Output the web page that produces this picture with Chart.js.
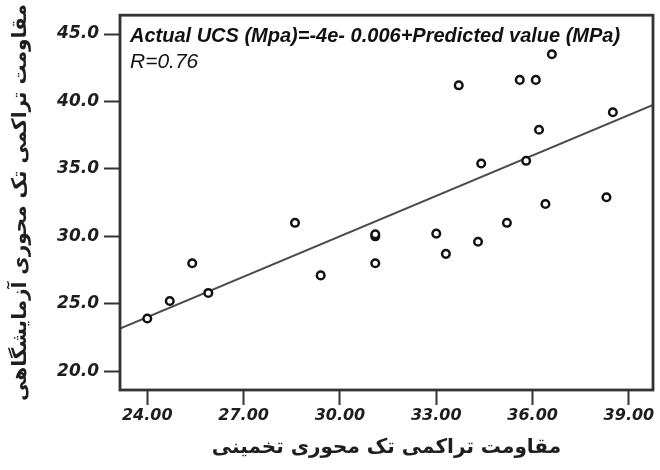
<!DOCTYPE html>
<html>
<head>
<meta charset="utf-8">
<script src="https://cdn.jsdelivr.net/npm/chart.js@4/dist/chart.umd.min.js"></script>
<style>
  html, body { margin: 0; padding: 0; background: #fff; }
  #c { display: block; }
</style>
</head>
<body>
<canvas id="c" width="660" height="470"></canvas>
<script>
  const predicted = [24.0, 24.7, 25.4, 25.9, 28.6, 29.4, 31.1, 31.1, 31.1, 33.0, 33.3, 33.7, 34.3, 34.4, 35.2, 35.6, 35.8, 36.1, 36.2, 36.4, 36.6, 38.3, 38.5];
  const actual    = [23.9, 25.2, 28.0, 25.8, 31.0, 27.1, 30.0, 30.15, 28.0, 30.2, 28.7, 41.2, 29.6, 35.4, 31.0, 41.6, 35.6, 41.6, 37.9, 32.4, 43.5, 32.9, 39.2];

  // fitted line: Actual = -4e-6 + Predicted, drawn across the x range
  const fitX = [23.15, 39.75];
  const fitY = [23.15, 39.75];

  const xTicks = [24, 27, 30, 33, 36, 39];
  const yTicks = [20, 25, 30, 35, 40, 45];
  const xRange = [23.15, 39.75];
  const yRange = [18.6, 46.4];

  const eqText = "Actual UCS (Mpa)=-4e- 0.006+Predicted value (MPa)";
  const rText = "R=0.76";
  const xTitle = "مقاومت تراکمی تک محوری تخمینی";
  const yTitle = "مقاومت تراکمی تک محوری آزمایشگاهی";

  const INK = "#1e1e1e", FRAME = "#333";
  const XTICKFONT = { family: "'DejaVu Sans', sans-serif", size: 16, weight: "bold", style: "italic" };
  const YTICKFONT = { family: "'DejaVu Sans', sans-serif", size: 17, weight: "bold", style: "italic" };
  const TITLEFONT = { family: "'DejaVu Sans', sans-serif", size: 20, weight: "bold" };

  const boxPlugin = {
    id: "box",
    afterDatasetsDraw(chart) {
      const { ctx, chartArea: a } = chart;
      ctx.save();
      ctx.strokeStyle = FRAME;
      ctx.lineWidth = 2.8;
      ctx.strokeRect(a.left, a.top, a.right - a.left, a.bottom - a.top);
      ctx.fillStyle = "#111";
      ctx.textBaseline = "alphabetic";
      ctx.font = "italic bold 20px 'Liberation Sans', Arial, sans-serif";
      ctx.fillText(eqText, a.left + 10, a.top + 27);
      ctx.font = "italic 21px 'Liberation Sans', Arial, sans-serif";
      ctx.fillText(rText, a.left + 10, a.top + 53);
      ctx.restore();
    }
  };

  const pts = predicted.map((x, i) => ({ x: x, y: actual[i] }));
  const fit = fitX.map((x, i) => ({ x: x, y: fitY[i] }));

  new Chart(document.getElementById("c"), {
    type: "scatter",
    data: {
      datasets: [
        { type: "scatter", data: pts, order: 1, pointStyle: "circle", pointRadius: 3.8, pointHoverRadius: 3.8,
          borderColor: "#111", backgroundColor: "#fff", borderWidth: 2.5 },
        { type: "line", data: fit, order: 2, borderColor: "#4a4a4a", borderWidth: 2, pointRadius: 0, fill: false }
      ]
    },
    options: {
      responsive: false, animation: false,
      layout: { padding: { top: 10, right: 7, left: 0, bottom: 0 } },
      plugins: { legend: { display: false }, tooltip: { enabled: false } },
      scales: {
        x: {
          type: "linear", min: xRange[0], max: xRange[1],
          afterBuildTicks: s => { s.ticks = xTicks.map(v => ({ value: v })); },
          afterFit: s => { s.height = 80; },
          grid: { drawOnChartArea: false, drawTicks: true, tickLength: 15, tickWidth: 2, tickColor: FRAME },
          border: { display: false },
          ticks: { color: INK, font: XTICKFONT, padding: 1, maxRotation: 0, callback: v => Number(v).toFixed(2) },
          title: { display: true, text: xTitle, color: INK, font: TITLEFONT, padding: { top: 0, bottom: 10 } }
        },
        y: {
          type: "linear", min: yRange[0], max: yRange[1],
          afterBuildTicks: s => { s.ticks = yTicks.map(v => ({ value: v })); },
          afterFit: s => { s.width = 120; },
          grid: { drawOnChartArea: false, drawTicks: true, tickLength: 16, tickWidth: 2, tickColor: FRAME },
          border: { display: false },
          ticks: { color: INK, font: YTICKFONT, padding: 5, callback: v => Number(v).toFixed(1) },
          title: { display: true, text: yTitle, color: INK, font: TITLEFONT, padding: { top: 9, bottom: 0 } }
        }
      }
    },
    plugins: [boxPlugin]
  });
</script>
</body>
</html>
